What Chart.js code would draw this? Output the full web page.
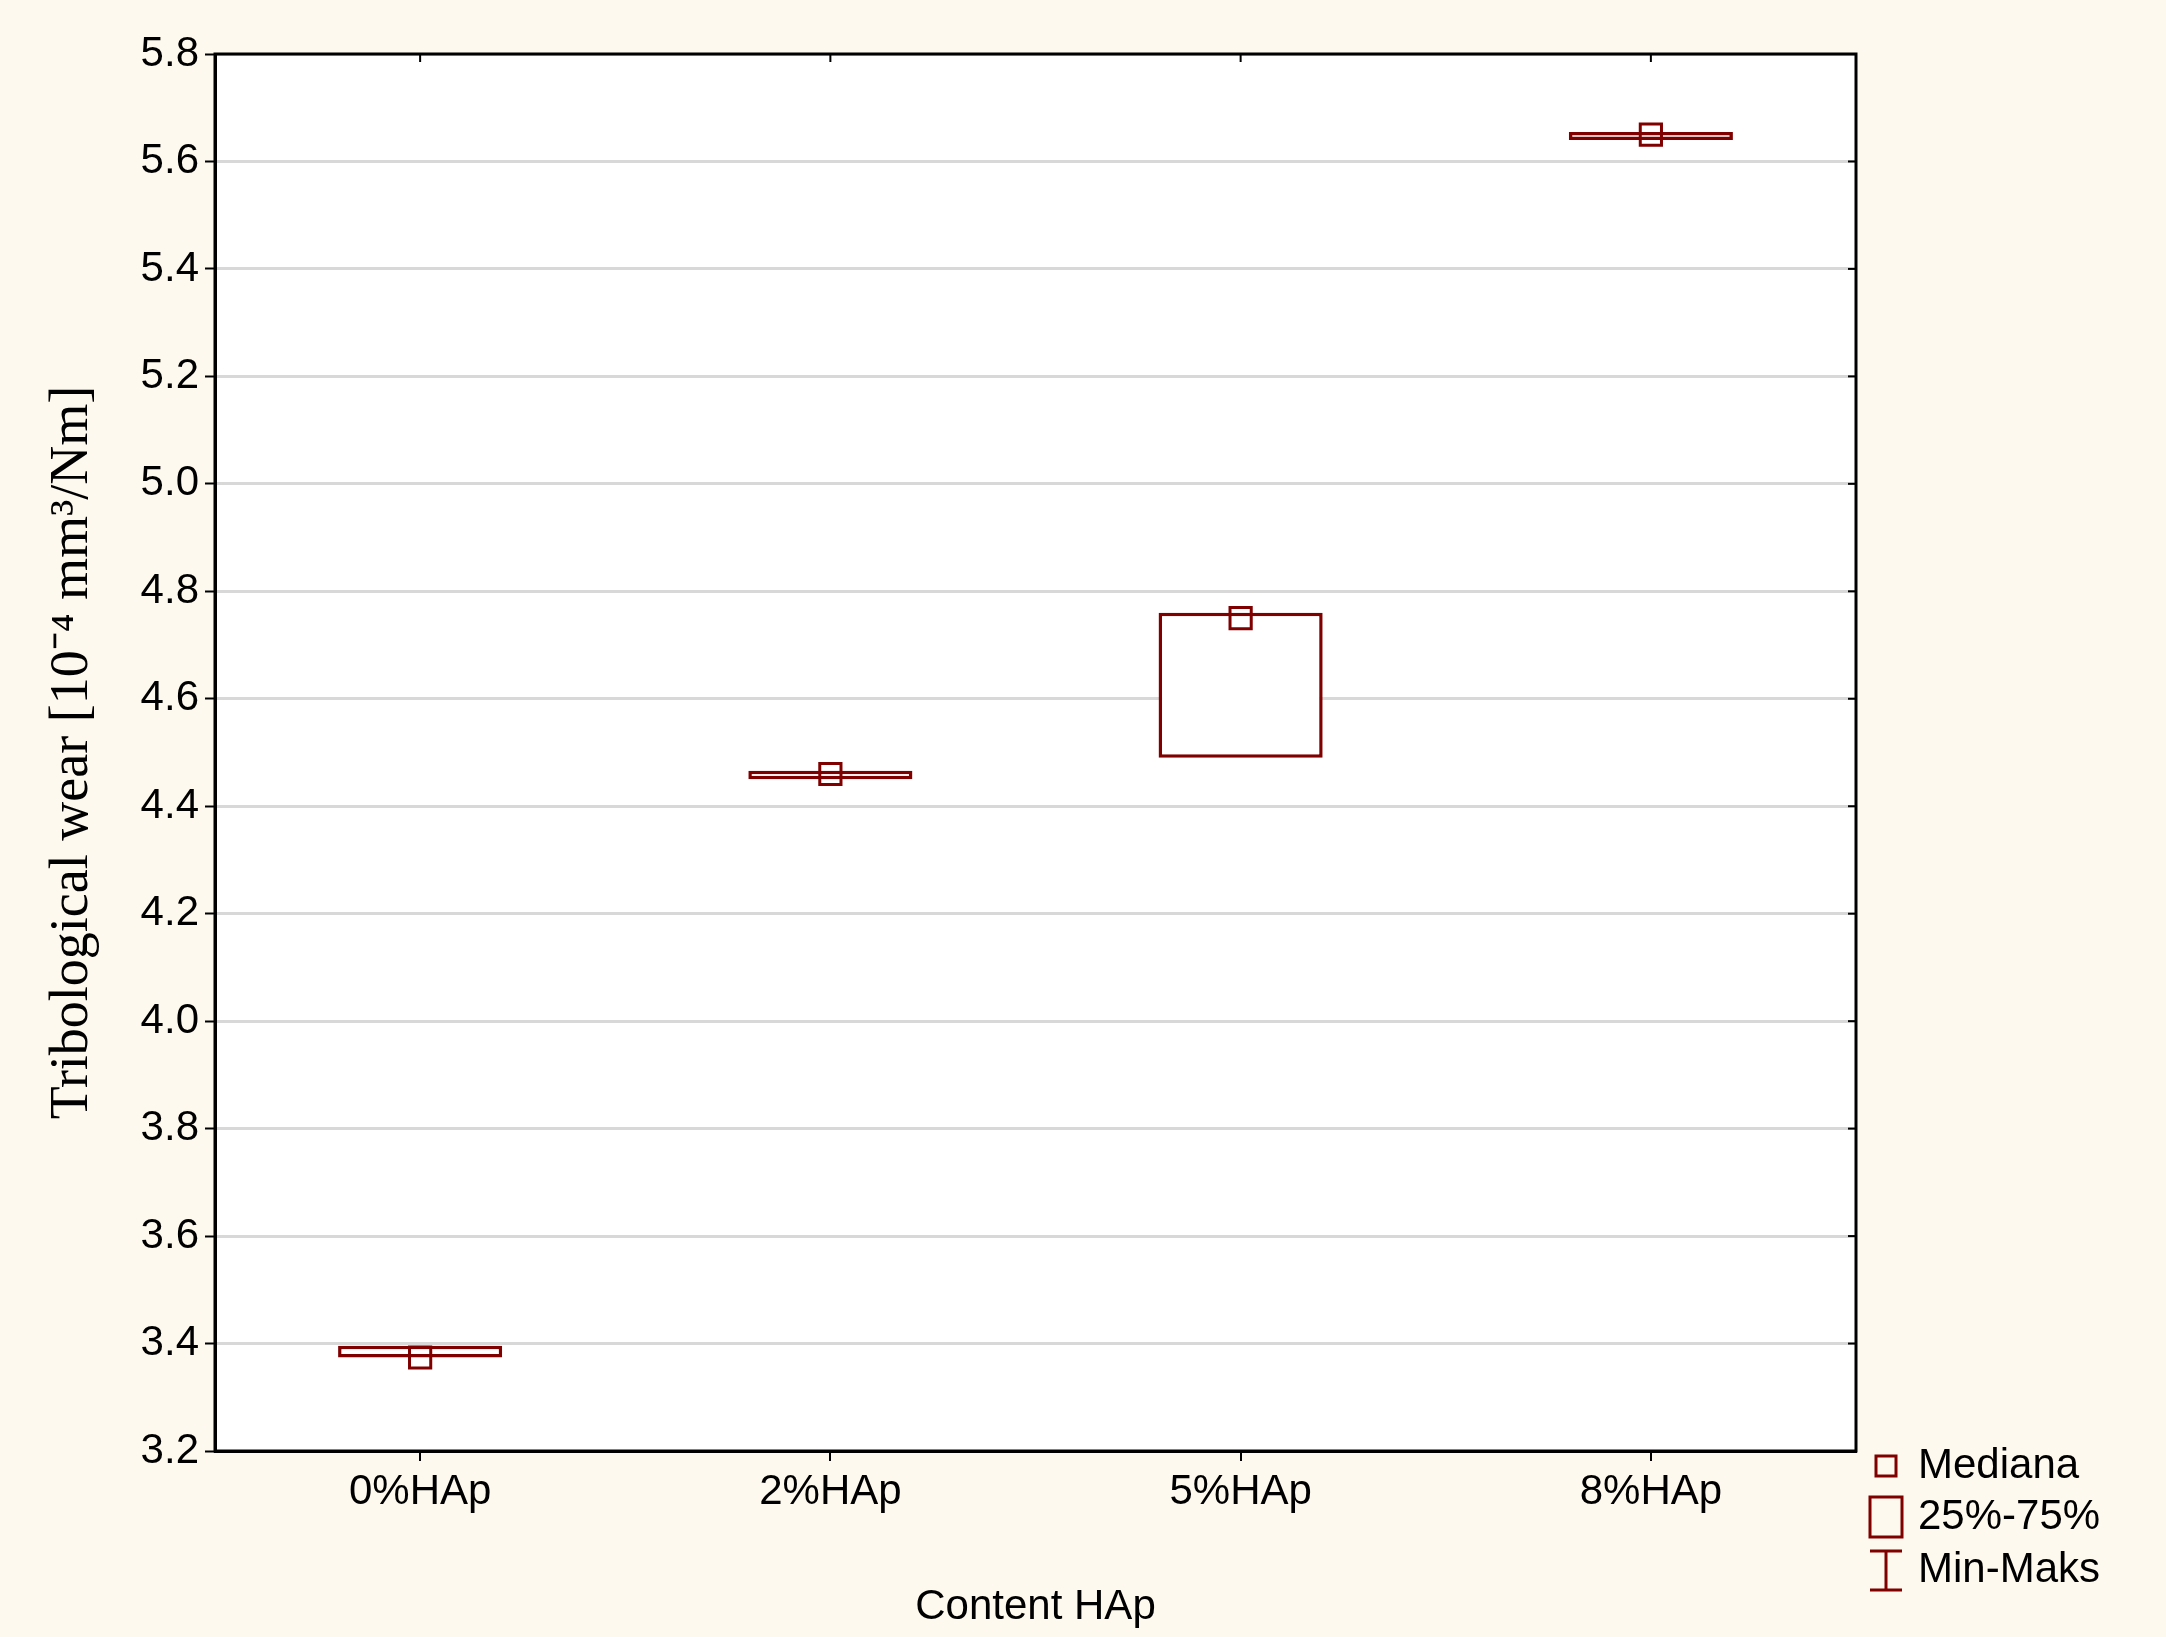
<!DOCTYPE html>
<html>
<head>
<meta charset="utf-8">
<script src="https://cdn.jsdelivr.net/npm/chart.js@4.4.1/dist/chart.umd.min.js"></script>
<style>
  html, body { margin: 0; padding: 0; background: #fdf9ee; }
  #wrap { width: 2166px; height: 1637px; }
</style>
</head>
<body>
<div id="wrap"><canvas id="c" width="2166" height="1637"></canvas></div>
<script>
// data
const categories = ['0%HAp', '2%HAp', '5%HAp', '8%HAp'];
const q25 = [3.374, 4.450, 4.490, 5.640];
const q75 = [3.396, 4.466, 4.760, 5.655];
const medians = [3.374, 4.460, 4.750, 5.650];
const yTicks = [3.2, 3.4, 3.6, 3.8, 4.0, 4.2, 4.4, 4.6, 4.8, 5.0, 5.2, 5.4, 5.6, 5.8];

const dark = '#800000';
const tickFont = { family: 'Liberation Sans', size: 42 };

// white plot area, frame, tick marks on top/right, legend
const framePlugin = {
  id: 'frame',
  beforeDraw(chart) {
    const { ctx, chartArea: a } = chart;
    ctx.save();
    ctx.fillStyle = '#ffffff';
    ctx.fillRect(a.left, a.top, a.right - a.left, a.bottom - a.top);
    ctx.restore();
  },
  afterDraw(chart) {
    const { ctx, chartArea: a, scales } = chart;
    ctx.save();
    ctx.strokeStyle = '#000';
    ctx.lineWidth = 3;
    ctx.strokeRect(a.left, a.top, a.right - a.left, a.bottom - a.top);
    ctx.lineWidth = 2;
    yTicks.forEach(v => {
      const y = scales.y.getPixelForValue(v);
      ctx.beginPath(); ctx.moveTo(a.right, y); ctx.lineTo(a.right - 8, y); ctx.stroke();
    });
    categories.forEach((c, i) => {
      const x = scales.x.getPixelForValue(i);
      ctx.beginPath(); ctx.moveTo(x, a.top); ctx.lineTo(x, a.top + 8); ctx.stroke();
    });
    // legend
    const lx = a.right + 30;
    ctx.font = '42px "Liberation Sans"';
    ctx.fillStyle = '#000';
    ctx.textBaseline = 'middle';
    ctx.strokeStyle = dark;
    ctx.lineWidth = 3;
    ctx.strokeRect(lx - 10, 1456, 20, 20);
    ctx.fillText('Mediana', lx + 32, 1466);
    ctx.strokeRect(lx - 16, 1497, 32, 40);
    ctx.fillText('25%-75%', lx + 32, 1517);
    ctx.beginPath();
    ctx.moveTo(lx - 16, 1551); ctx.lineTo(lx + 16, 1551);
    ctx.moveTo(lx, 1551); ctx.lineTo(lx, 1590);
    ctx.moveTo(lx - 16, 1590); ctx.lineTo(lx + 16, 1590);
    ctx.stroke();
    ctx.fillText('Min-Maks', lx + 32, 1570);
    ctx.restore();
  }
};

new Chart(document.getElementById('c').getContext('2d'), {
  type: 'bar',
  data: {
    labels: categories,
    datasets: [
      {
        type: 'line',
        data: medians,
        showLine: false,
        pointStyle: 'rect',
        pointRadius: 15,
        pointBorderWidth: 3,
        pointBorderColor: dark,
        pointBackgroundColor: 'rgba(0,0,0,0)',
        order: 0
      },
      {
        data: categories.map((c, i) => [q25[i], q75[i]]),
        backgroundColor: '#ffffff',
        borderColor: dark,
        borderWidth: 3.5,
        borderSkipped: false,
        barPercentage: 0.4,
        categoryPercentage: 1.0,
        order: 1
      }
    ]
  },
  options: {
    responsive: false,
    animation: false,
    layout: { padding: { top: 54, right: 310, left: 0, bottom: 0 } },
    plugins: { legend: { display: false }, tooltip: { enabled: false } },
    scales: {
      x: {
        afterFit(s) { s.height = 186; },
        grid: { display: true, drawOnChartArea: false, color: '#000', lineWidth: 2, tickLength: 10, offset: false },
        border: { color: '#000', width: 3 },
        ticks: { color: '#000', font: tickFont, padding: 6 },
        title: { display: true, text: 'Content HAp', color: '#000', font: tickFont, padding: { top: 14 } }
      },
      y: {
        min: 3.2,
        max: 5.8,
        afterFit(s) { s.width = 215; },
        afterBuildTicks(s) { s.ticks = yTicks.map(v => ({ value: v })); },
        grid: { color: '#d8d8d8', lineWidth: 3, tickLength: 10, tickColor: '#000', tickWidth: 2 },
        border: { color: '#000', width: 3 },
        ticks: { color: '#000', font: tickFont, padding: 6, callback: v => v.toFixed(1) },
        title: {
          display: true,
          text: 'Tribological wear [10\u207B\u2074 mm\u00B3/Nm]',
          color: '#000',
          font: { family: 'Liberation Serif', size: 54 },
          padding: { top: 40, bottom: 0 }
        }
      }
    }
  },
  plugins: [framePlugin]
});
</script>
</body>
</html>
